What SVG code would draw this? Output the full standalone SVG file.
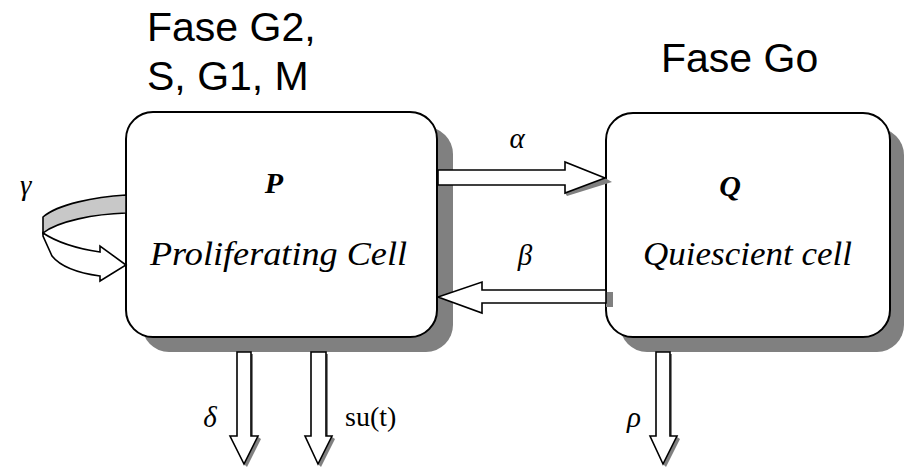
<svg xmlns="http://www.w3.org/2000/svg" width="910" height="469" viewBox="0 0 910 469">
<style>
.box{fill:#fff;stroke:#000;stroke-width:2}
.shadow{fill:#808080}
.arrow{fill:#fff;stroke:#000;stroke-width:1.6;stroke-linejoin:miter}
.phase{font-family:"Liberation Sans",Arial,sans-serif;font-size:41px;fill:#000}
.sym{font-family:"Liberation Serif","Times New Roman",serif;font-style:italic;font-size:29px;fill:#000}
.name{font-family:"Liberation Serif","Times New Roman",serif;font-style:italic;font-size:33px;fill:#000}
.big{font-family:"Liberation Serif","Times New Roman",serif;font-style:italic;font-weight:bold;font-size:30px;fill:#000}
.up{font-family:"Liberation Serif","Times New Roman",serif;font-size:28px;fill:#000}
</style>
<rect width="910" height="469" fill="#fff"/>
<g id="labels-phase">
<text class="phase" x="147" y="41">Fase G2,</text>
<text class="phase" x="147" y="90">S, G1, M</text>
<text class="phase" x="661" y="72">Fase Go</text>
</g>
<g id="node-P">
<rect class="shadow" x="142" y="127" width="311" height="225" rx="27"/>
<rect class="box" x="126" y="112" width="311" height="225" rx="27"/>
<text class="big" x="274" y="193" text-anchor="middle">P</text>
<text class="name" x="150" y="265" textLength="257" lengthAdjust="spacingAndGlyphs">Proliferating Cell</text>
</g>
<g id="node-Q">
<rect class="shadow" x="620" y="128" width="284" height="224" rx="27"/>
<rect class="box" x="606" y="113" width="284" height="224" rx="27"/>
<text class="big" x="730" y="196" text-anchor="middle">Q</text>
<text class="name" x="643" y="265" textLength="209" lengthAdjust="spacingAndGlyphs">Quiescient cell</text>
</g>
<g id="connectors">
<path d="M126,195 C95,197 58,204 43,217 L43,233 C58,221 95,214 126,213 Z" fill="#c8c8c8" stroke="#000" stroke-width="1.6"/>
<path class="arrow" d="M43,233 C58,243 80,249 100,252 L100,246 L126,265 L100,281 L100,276 C78,273 60,266 52,256 L43,236 Z"/>
<text class="sym" x="20" y="195">γ</text>
<polygon class="shadow" points="567,196 612,182 605,178 565,193"/>
<polygon class="arrow" points="438,170 565,170 565,162 605,178 565,193 565,185 438,185"/>
<text class="sym" x="517" y="148" text-anchor="middle">α</text>
<rect class="shadow" x="606" y="292" width="7" height="15"/>
<polygon class="arrow" points="606,290 482,290 482,282 438,297 482,313 482,303 606,303"/>
<text class="sym" x="525" y="265" text-anchor="middle">β</text>
<polygon class="shadow" points="251,354 253,354 253,436 251,436"/>
<polygon class="shadow" points="258,437 261,439 247,467 244,464"/>
<polygon class="arrow" points="237,352 251,352 251,436 258,436 244,464 230,436 237,436"/>
<text class="sym" x="210" y="427" text-anchor="middle">δ</text>
<polygon class="shadow" points="326,354 328,354 328,436 326,436"/>
<polygon class="shadow" points="332,437 335,439 321,467 318,464"/>
<polygon class="arrow" points="311,352 326,352 326,436 332,436 318,464 305,436 311,436"/>
<text class="up" x="345" y="426">su(t)</text>
<polygon class="shadow" points="670,354 672,354 672,436 670,436"/>
<polygon class="shadow" points="677,437 680,439 666,467 663,464"/>
<polygon class="arrow" points="656,352 670,352 670,436 677,436 663,464 650,436 656,436"/>
<text class="sym" x="634" y="427" text-anchor="middle">ρ</text>
</g>
</svg>
